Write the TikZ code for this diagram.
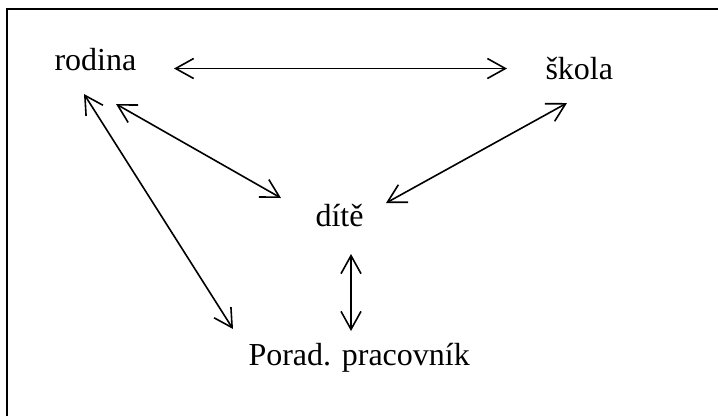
\documentclass[tikz,border=0pt]{standalone}
\usepackage{fontspec}
\setmainfont{Liberation Serif}
\usetikzlibrary{arrows.meta}
\tikzset{
  label/.style={inner sep=0pt, anchor=base west, font=\fontsize{12}{14}\selectfont},
  link/.style={line width=0.6pt, {Straight Barb[length=6.75pt,width=7.5pt]}-{Straight Barb[length=6.75pt,width=7.5pt]}},
  frame/.style={line width=0.75pt}
}
\begin{document}
\begin{tikzpicture}[x=0.375pt, y=-0.375pt]
  \useasboundingbox (0,0) rectangle (718,416);
  % frame (only the top and left edges fall inside the page)
  \draw[frame] (6.5,416) -- (6.5,9) -- (718,9);

  \node[label] (rodina) at (54,70)  {rodina};
  \node[label] (skola)  at (545,79) {škola};
  \node[label] (dite)   at (315,226) {dítě};
  \node[label] (porad)  at (248,365) {Porad. pracovník};

  \draw[link] ([shift={(120,-1.5)}]rodina.base west) -- ([shift={(-38,-10.5)}]skola.base west);
  \draw[link] ([shift={(62,34)}]rodina.base west) -- ([shift={(-34,-28)}]dite.base west);
  \draw[link] ([shift={(30,24)}]rodina.base west) -- ([shift={(-15,-36)}]porad.base west);
  \draw[link] ([shift={(22,24)}]skola.base west) -- ([shift={(71,-23)}]dite.base west);
  \draw[link] ([shift={(36,28)}]dite.base west) -- ([shift={(103,-34)}]porad.base west);
\end{tikzpicture}
\end{document}
